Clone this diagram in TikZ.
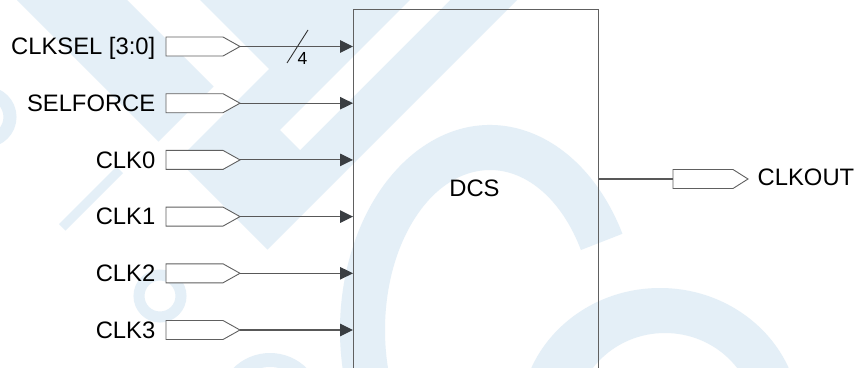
\documentclass[tikz,border=0pt]{standalone}
\usepackage{fontspec}
\setmainfont{Liberation Sans}
\usetikzlibrary{arrows.meta,calc}
\definecolor{wm}{RGB}{228,239,247}
\definecolor{edgec}{RGB}{96,96,96}
\definecolor{wirec}{RGB}{88,88,88}
\definecolor{tipc}{RGB}{58,62,66}
\begin{document}
\begin{tikzpicture}[x=1pt,y=-1pt,
  portbox/.style={minimum width=74pt, minimum height=19pt, inner sep=0pt, outer sep=0pt},
  portline/.style={draw=edgec, fill=white, line width=0.9pt, line join=miter},
  lbl/.style={font=\fontsize{23.8}{28}\selectfont, inner sep=0pt, text=black},
  inwire/.style={draw=wirec, line width=1.1pt, -{Triangle[length=13pt,width=12.5pt,color=tipc]}},
  outwire/.style={draw=wirec, line width=1.1pt},
  boxst/.style={draw=edgec, line width=1.3pt, minimum width=244.5pt, minimum height=420pt, inner sep=0pt, anchor=north west}]
\useasboundingbox (0,0) rectangle (857,367);
\clip (0,0) rectangle (857,367);
\fill[white] (0,0) rectangle (857,367);
% ---- watermark ----
\fill[wm] (17,0) -- (127,0) -- (213.5,86.5) -- (158.5,141.5) -- cycle;
\fill[wm] (200,0) -- (517,0) -- (267.5,249.5) -- (178,160) -- (269,69) -- cycle;
\fill[white] (410,0) -- (450,0) -- (300,150) -- (280,130) -- cycle;
\fill[wm] (116.5,166.5) -- (123,173) -- (65.5,230.5) -- (59,224) -- cycle;
\fill[wm] ($(490,330)+(-28:150 and 205)$) arc[start angle=-28,end angle=-270,x radius=150,y radius=205]
  -- (490,490) arc[start angle=-270,end angle=-30,x radius=105,y radius=160] -- cycle;
\fill[wm,even odd rule] (660,420) ellipse [x radius=140, y radius=132] (665,420) ellipse [x radius=90, y radius=87];
\fill[wm,even odd rule] (270,405) circle (52) (270,405) circle (38);
\draw[wm,line width=13pt] (-14,117) circle (24);
\draw[wm,line width=11pt] (160,296) circle (21);
% ---- block ----
\node[boxst] (dcs) at (353,9) {};
\node[lbl, anchor=base] (dcslabel) at (474.5,196) {DCS};
% ---- input ports ----
\node[portbox] (p0) at (203,46.5) {};
\node[portbox] (p1) at (203,103.2) {};
\node[portbox] (p2) at (203,159.9) {};
\node[portbox] (p3) at (203,216.6) {};
\node[portbox] (p4) at (203,273.3) {};
\node[portbox] (p5) at (203,330) {};
\node[portbox,minimum width=75pt] (po) at (710.5,179) {};
\foreach \p/\d in {p0/17,p1/17,p2/17,p3/17,p4/17,p5/17,po/15}
  \path[portline] (\p.north west) -- ($(\p.north east)+(-\d,0)$) -- (\p.east)
    -- ($(\p.south east)+(-\d,0)$) -- (\p.south west) -- cycle;
% ---- labels ----
\node[lbl, anchor=base east] (l0) at (155.5,54.8) {CLKSEL [3:0]};
\node[lbl, anchor=base east] (l1) at (155.5,111.5) {SELFORCE};
\node[lbl, anchor=base east] (l2) at (155.5,168.2) {CLK0};
\node[lbl, anchor=base east] (l3) at (155.5,224.9) {CLK1};
\node[lbl, anchor=base east] (l4) at (155.5,281.6) {CLK2};
\node[lbl, anchor=base east] (l5) at (155.5,338.3) {CLK3};
\node[lbl, anchor=base west] (lo) at (757.5,185.6) {CLKOUT};
% ---- wires ----
\foreach \p in {p0,p1,p2,p3,p4,p5}
  \draw[inwire] (\p.east) -- (\p.east -| dcs.west);
\draw[outwire] (dcs.east |- po.west) -- (po.west);
% ---- bus width mark ----
\coordinate (s1) at (287,63);
\coordinate (s2) at (308,30);
\draw[draw=black!80, line width=0.9pt] (s1) -- (s2);
\node[anchor=base west, font=\fontsize{17.5}{20}\selectfont, inner sep=0pt] (busw) at (297.5,64.3) {4};
\end{tikzpicture}
\end{document}
